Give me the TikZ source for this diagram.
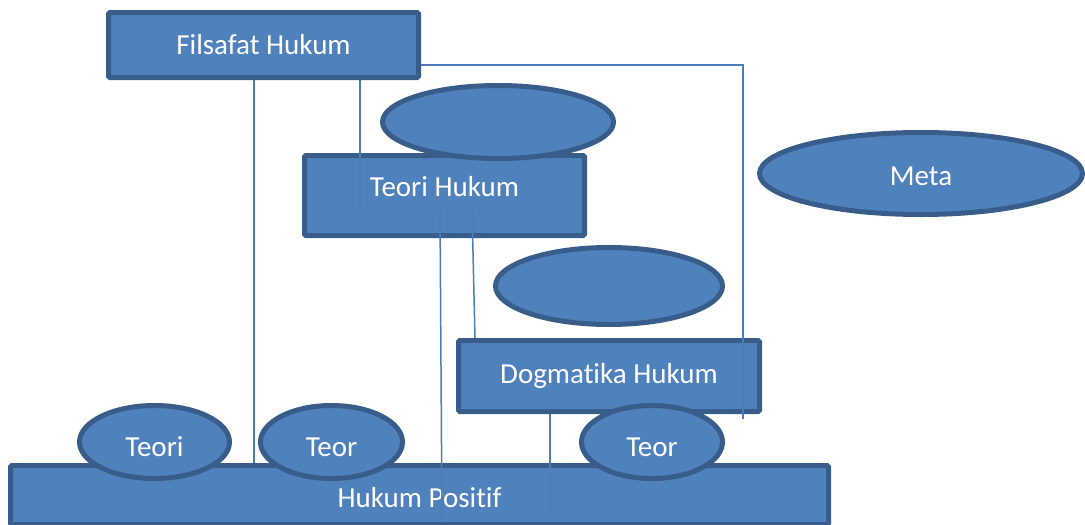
\documentclass[tikz,border=0pt]{standalone}
\usepackage{fontspec}
\setmainfont{Carlito}[Ligatures=NoCommon]
\usepackage{tikz}
\usetikzlibrary{positioning, calc, shapes.geometric}
\definecolor{hfill}{HTML}{4F81BD}
\definecolor{hborder}{HTML}{385D8A}
\definecolor{hline}{HTML}{4A7EBB}
\tikzset{
  box/.style={draw=hborder, fill=hfill, line width=5pt, rounded corners=1.5pt,
    text=white, font=\fontsize{29}{34}\selectfont, inner sep=0pt},
  oval/.style={ellipse, draw=hborder, fill=hfill, line width=5pt,
    text=white, font=\fontsize{29}{34}\selectfont, inner sep=0pt},
  link/.style={draw=hline, line width=1.5pt},
}

\begin{document}
\begin{tikzpicture}[x=1pt, y=-1pt]

  \useasboundingbox (0,0) rectangle (1085,525);
  \clip (0,0) rectangle (1085,525);

  %% Boxes
  \node[box, minimum width=310pt, minimum height=65pt] (filsafat) at (263.5,45) {Filsafat Hukum};
  \node[box, minimum width=280pt, minimum height=80pt, text depth=18pt] (teori) at (444.5,195.5) {Teori Hukum};
  \node[box, minimum width=301pt, minimum height=71pt] (dogma) at (609,376) {Dogmatika Hukum};
  \node[box, minimum width=818pt, minimum height=59pt, text height=26pt] (positif) at (419.5,495) {Hukum Positif};

  %% Ovals
  \node[oval, minimum width=231pt, minimum height=73pt] (ovalA) at (498,122) {};
  \node[oval, minimum width=227pt, minimum height=77pt] (ovalB) at (609,286) {};
  \node[oval, minimum width=323pt, minimum height=82pt, text height=24pt] (meta) at (921,173.5) {Meta};
  \node[oval, minimum width=150pt, minimum height=73pt, text height=29pt] (teoriA) at (154.5,442) {Teori};
  \node[oval, minimum width=142pt, minimum height=73pt, text height=29pt] (teoriB) at (331.5,442) {Teor};
  \node[oval, minimum width=141pt, minimum height=73pt, text height=29pt] (teoriC) at (652,442) {Teor};

  %% free ends of the links
  \coordinate (fA) at (254,0);
  \coordinate (fB) at (360,210);
  \coordinate (fC) at (743,419);
  \coordinate (tA) at (440,210);
  \coordinate (tA2) at (442,522);
  \coordinate (tB) at (472,210);
  \coordinate (tB2) at (475,0);
  \coordinate (dA) at (550,518);

  %% Links
  \draw[link] (filsafat.south -| fA) -- (positif.north -| fA);
  \draw[link] (filsafat.south -| fB) -- (fB);
  \draw[link] ([yshift=-20pt]filsafat.east) -| (fC);
  \draw[link] (tA) -- (tA2);
  \draw[link] (tB) -- (dogma.north -| tB2);
  \draw[link] (dogma.south -| dA) -- (dA);

\end{tikzpicture}
\end{document}
